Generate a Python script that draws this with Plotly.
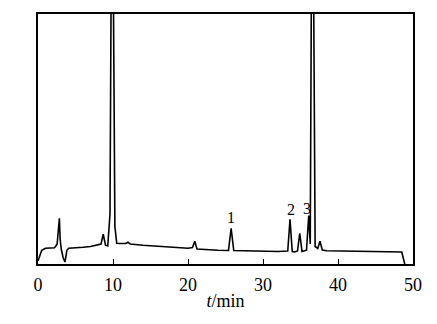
import plotly.graph_objects as go

# Digitized chromatogram (time in min, signal in arbitrary units 0-100 of visible range)
time_min = [0.0, 0.2, 0.5, 1.0, 1.5, 2.2, 2.4, 2.55, 2.85, 2.95, 3.1, 3.35, 3.6, 3.85, 4.1,
            5.0, 6.0, 7.0, 8.0, 8.4, 8.7, 9.0, 9.3, 9.6, 9.75, 10.05, 10.25, 10.5,
            11.0, 11.7, 12.0, 12.3, 14.0, 16.0, 18.0, 20.0, 20.6, 20.9, 21.2, 22.0, 24.0,
            25.4, 25.75, 26.1, 28.0, 30.0, 32.0, 33.3, 33.6, 33.9, 34.2, 34.6, 34.9, 35.2,
            35.8, 36.1, 36.3, 36.45, 36.75, 36.95, 37.3, 37.6, 37.9, 38.5, 40.0, 45.0,
            48.5, 48.9]
signal = [1.2, 3.0, 5.5, 6.3, 6.5, 6.5, 7.3, 8.0, 18.3, 10.0, 6.0, 2.5, 0.8, 5.5, 6.3,
          6.4, 6.7, 7.0, 7.5, 8.0, 11.9, 7.5, 7.2, 20.0, 110.0, 110.0, 15.0, 8.3,
          8.2, 8.2, 8.7, 8.0, 7.5, 7.0, 6.7, 6.3, 6.6, 9.1, 6.0, 5.8, 5.5,
          5.4, 14.3, 5.4, 5.2, 5.1, 5.0, 5.2, 17.9, 5.0, 4.8, 5.2, 12.3, 5.0,
          5.5, 19.4, 8.0, 110.0, 110.0, 7.0, 6.2, 9.1, 5.6, 5.3, 5.2, 5.0,
          4.8, 0.0]

peak_labels = ["1", "2", "3"]
peak_times = [25.75, 33.75, 35.85]
peak_label_y = [18.5, 21.8, 22.3]

x_ticks = [0, 10, 20, 30, 40, 50]

SERIF = "Liberation Serif, Times New Roman, Times, serif"

fig = go.Figure()
fig.add_trace(go.Scatter(x=time_min, y=signal, mode="lines",
                         line=dict(color="black", width=1.6), showlegend=False,
                         hoverinfo="skip"))

for lab, tx, ty in zip(peak_labels, peak_times, peak_label_y):
    fig.add_annotation(x=tx, y=ty, text=lab, showarrow=False,
                       font=dict(family=SERIF, size=16, color="black"))

fig.update_layout(
    width=437, height=324,
    margin=dict(l=38, r=24, t=12, b=60),
    paper_bgcolor="white", plot_bgcolor="white",
    font=dict(family=SERIF, size=18, color="black"),
    xaxis=dict(range=[0, 50], tickvals=x_ticks, ticktext=[str(v) for v in x_ticks],
               ticks="inside", ticklen=5, tickwidth=1, tickcolor="black",
               ticklabelstandoff=4,
               showline=True, linecolor="black", linewidth=1.5, mirror=True,
               showgrid=False, zeroline=False,
               title=dict(text="<i>t</i>/min", standoff=0,
                          font=dict(family=SERIF, size=18)),
               tickfont=dict(family=SERIF, size=18)),
    yaxis=dict(range=[0, 100], showticklabels=False, ticks="",
               showline=True, linecolor="black", linewidth=1.5, mirror=True,
               showgrid=False, zeroline=False),
)

fig.write_html("out.html", config={"displayModeBar": False},
               post_script="document.body.style.margin='0';")
